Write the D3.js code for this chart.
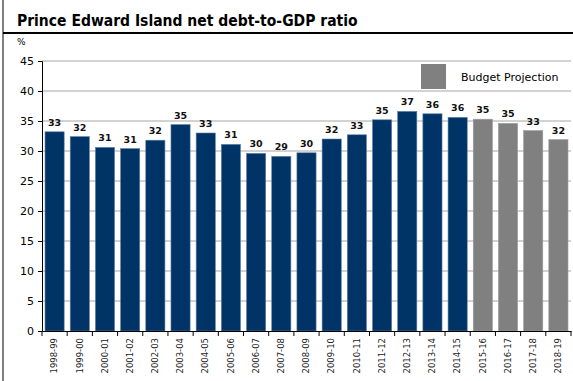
<!DOCTYPE html>
<html>
<head>
<meta charset="utf-8">
<script src="https://cdn.jsdelivr.net/npm/d3@7"></script>
<style>
  body { margin: 0; background: #fff; }
  svg { display: block; font-family: "DejaVu Sans", sans-serif; }
</style>
</head>
<body>
<div class="chart"></div>
<script>
const years = ["1998-99", "1999-00", "2000-01", "2001-02", "2002-03", "2003-04", "2004-05",
    "2005-06", "2006-07", "2007-08", "2008-09", "2009-10", "2010-11", "2011-12", "2012-13",
    "2013-14", "2014-15", "2015-16", "2016-17", "2017-18", "2018-19"];
const ratios = [33.2, 32.4, 30.6, 30.4, 31.8, 34.4, 33.0, 31.1, 29.6, 29.1, 29.7, 32.0, 32.7,
    35.2, 36.6, 36.2, 35.6, 35.3, 34.6, 33.4, 31.9];
const labels = ["33", "32", "31", "31", "32", "35", "33", "31", "30", "29", "30", "32", "33",
    "35", "37", "36", "36", "35", "35", "33", "32"];
const projected = [false, false, false, false, false, false, false, false, false, false, false,
    false, false, false, false, false, false, true, true, true, true];
const yTicks = [0, 5, 10, 15, 20, 25, 30, 35, 40, 45];

const w = 573, h = 381;
const plot = { left: 42, right: 571, top: 61, bottom: 331 };

var svg = d3.select(".chart").append("svg")
    .attr("width", w)
    .attr("height", h);

// frame
svg.append("line")
    .attr("x1", 3).attr("x2", 3).attr("y1", 0).attr("y2", h)
    .attr("stroke", "#000").attr("stroke-width", 1);
svg.append("line")
    .attr("x1", 3).attr("x2", w).attr("y1", 33).attr("y2", 33)
    .attr("stroke", "#000").attr("stroke-width", 2);

svg.append("text")
    .attr("x", 17).attr("y", 26)
    .attr("font-family", "DejaVu Sans Condensed")
    .attr("font-size", 15.5).attr("font-weight", "bold")
    .text("Prince Edward Island net debt-to-GDP ratio");

svg.append("text")
    .attr("x", 17).attr("y", 45)
    .attr("font-size", 9)
    .text("%");

var yScale = d3.scaleLinear().domain([0, 45]).range([plot.bottom, plot.top]);
var xScale = d3.scaleBand().domain(years).range([plot.left, plot.right])
    .paddingInner(0.24).paddingOuter(0.12);

// gridlines
svg.append("g")
    .selectAll("line")
    .data(yTicks.filter(d => d > 0))
    .enter().append("line")
    .attr("x1", plot.left).attr("x2", plot.right)
    .attr("y1", d => yScale(d)).attr("y2", d => yScale(d))
    .attr("stroke", "#a6a6a6").attr("stroke-width", 1);

// legend
svg.append("rect")
    .attr("x", 421).attr("y", 64).attr("width", 25).attr("height", 25)
    .attr("fill", "#808080");
svg.append("text")
    .attr("x", 461).attr("y", 81)
    .attr("font-size", 11)
    .text("Budget Projection");

// bars
svg.append("g")
    .selectAll("rect")
    .data(years)
    .enter().append("rect")
    .attr("x", d => xScale(d))
    .attr("width", xScale.bandwidth())
    .attr("y", (d, i) => yScale(ratios[i]))
    .attr("height", (d, i) => yScale(0) - yScale(ratios[i]))
    .attr("fill", (d, i) => projected[i] ? "#808080" : "#003366")
    .attr("stroke", (d, i) => projected[i] ? "#9a9a9a" : "#5f7fa6")
    .attr("stroke-width", 0.6);

// value labels
svg.append("g")
    .selectAll("text")
    .data(years)
    .enter().append("text")
    .attr("x", d => xScale(d) + xScale.bandwidth() / 2)
    .attr("y", (d, i) => yScale(ratios[i]) - 6)
    .attr("text-anchor", "middle")
    .attr("font-size", 9.5).attr("font-weight", "bold")
    .attr("fill", "#111")
    .text((d, i) => labels[i]);

// y axis
var yAxis = d3.axisLeft(yScale).tickValues(yTicks).tickSize(4).tickPadding(4);
svg.append("g")
    .attr("transform", `translate(${plot.left},0)`)
    .call(yAxis)
    .call(g => g.select(".domain").attr("stroke", "#000"))
    .call(g => g.selectAll("text").attr("font-size", 11).attr("fill", "#000")
        .attr("font-family", "DejaVu Sans"));

// x axis with ticks between categories
var xAxis = d3.axisBottom(xScale).tickSize(0).tickSizeOuter(0);
var gx = svg.append("g")
    .attr("transform", `translate(0,${plot.bottom})`)
    .call(xAxis);
gx.select(".domain").attr("stroke", "#000");
gx.selectAll("text")
    .attr("transform", "rotate(-90)")
    .attr("text-anchor", "end")
    .attr("x", -7).attr("y", 0).attr("dy", "0.32em")
    .attr("font-size", 8.5).attr("fill", "#222")
    .attr("font-family", "DejaVu Sans");
var step = xScale.step();
gx.append("g").selectAll("line")
    .data(d3.range(years.length + 1))
    .enter().append("line")
    .attr("x1", i => plot.left + i * step)
    .attr("x2", i => plot.left + i * step)
    .attr("y1", 0).attr("y2", 5)
    .attr("stroke", "#000");
</script>
</body>
</html>
